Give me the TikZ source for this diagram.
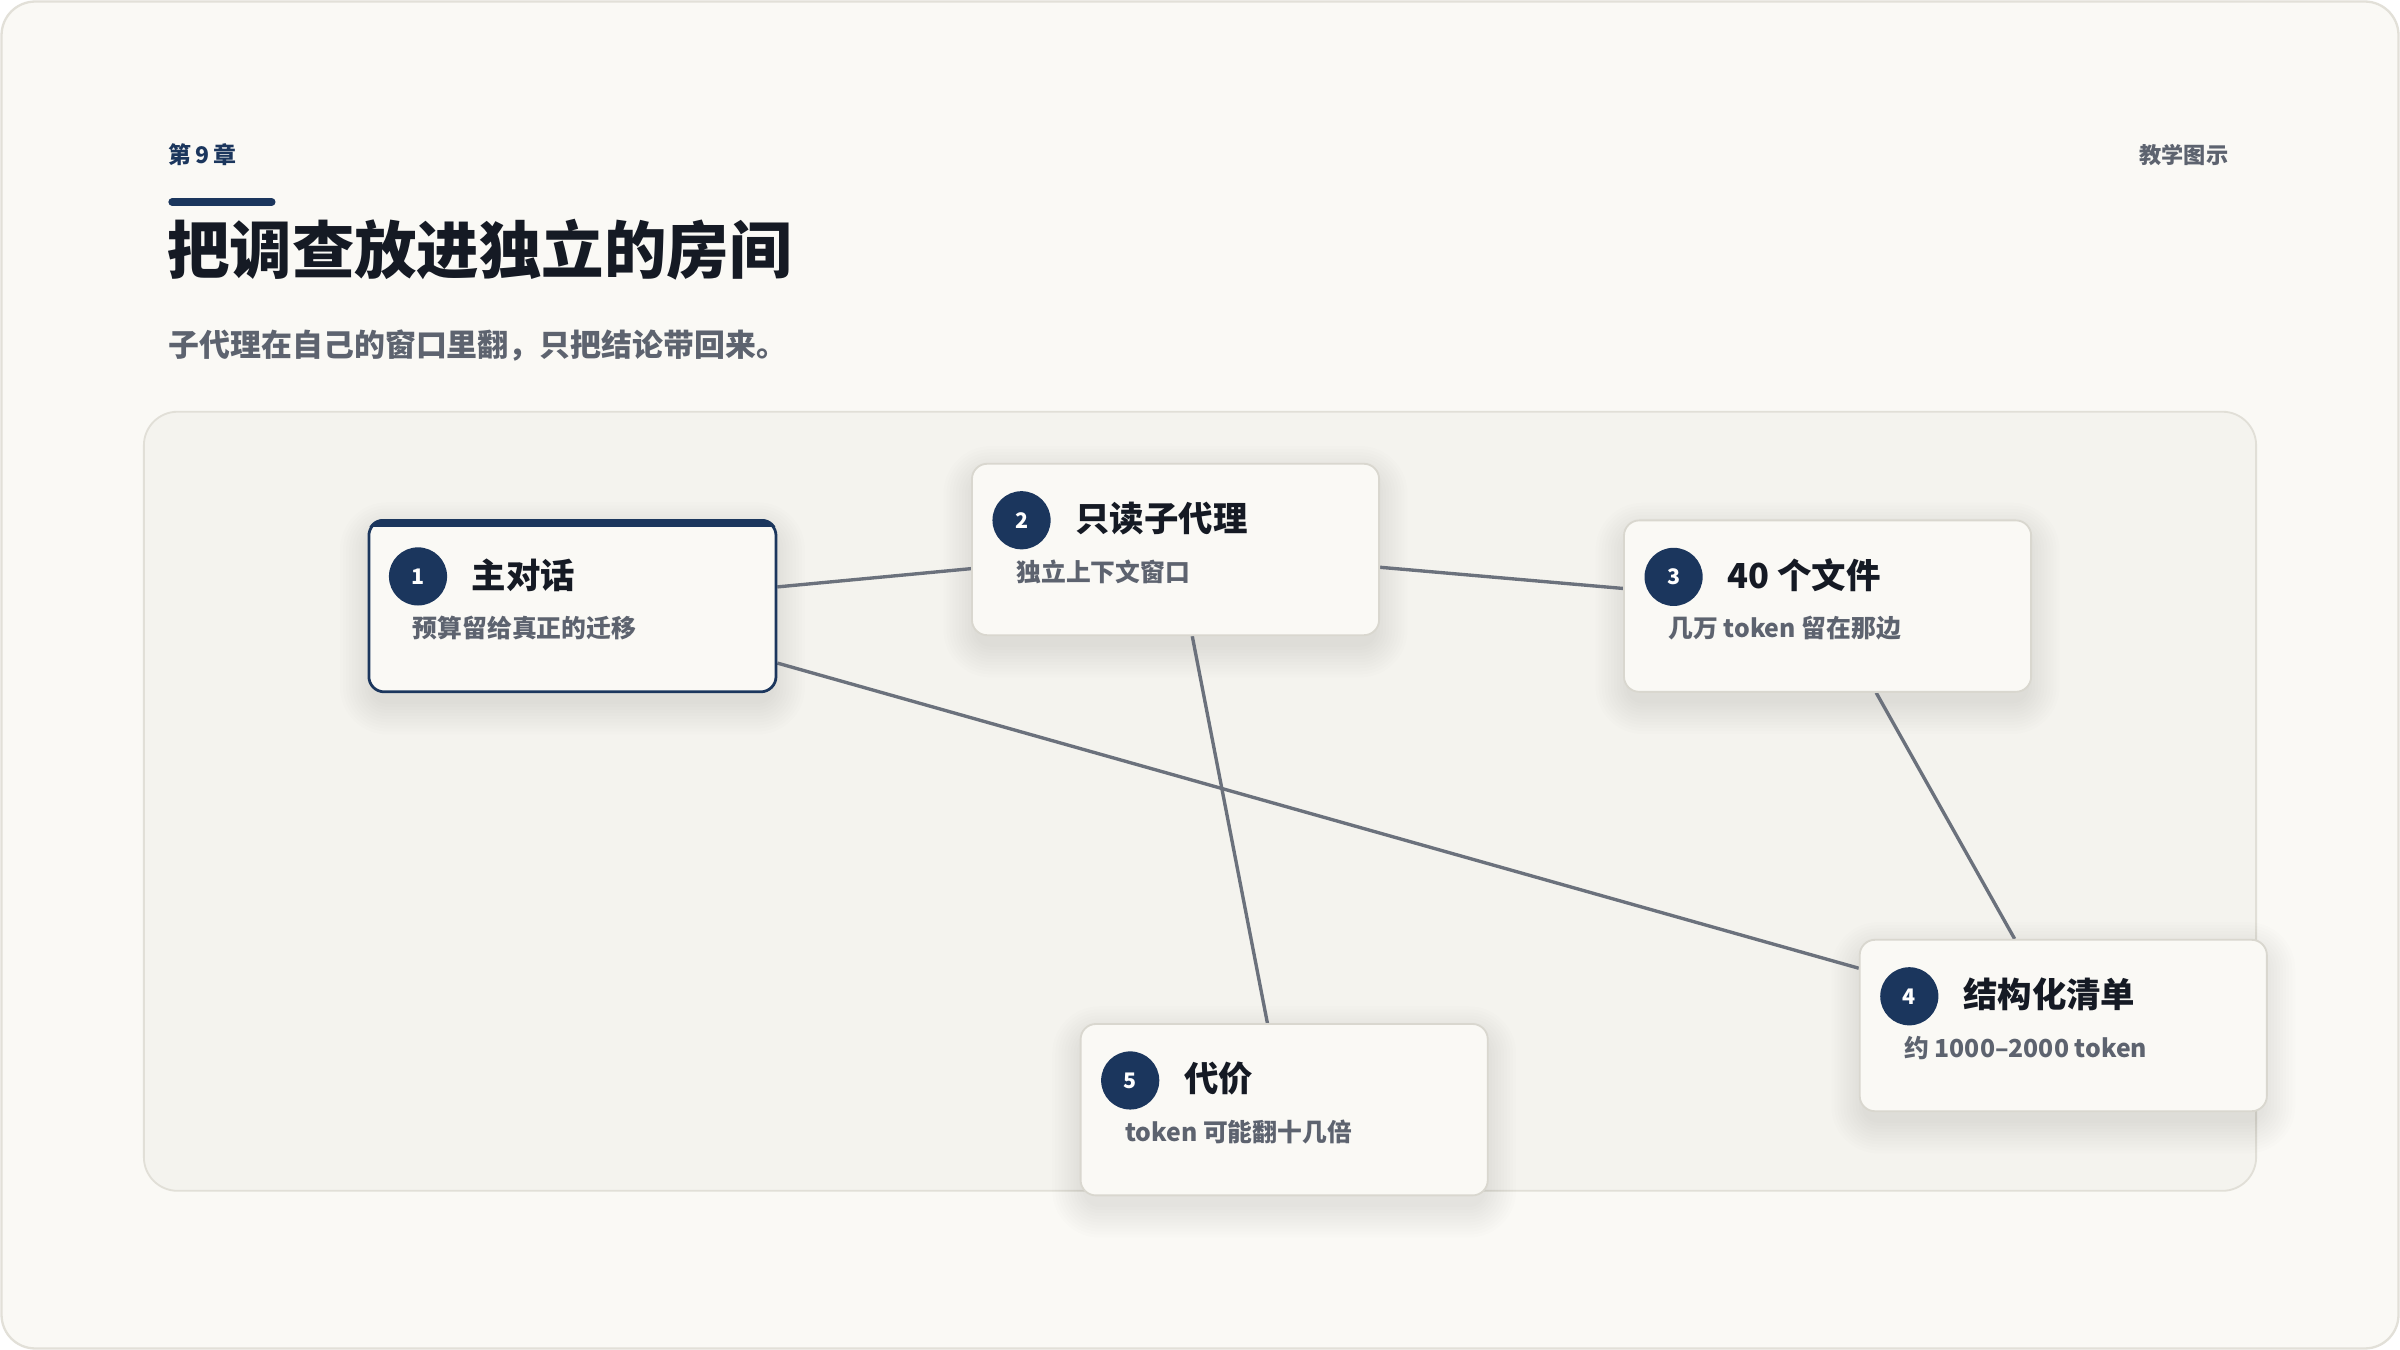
\documentclass[tikz,border=0pt]{standalone}
\usepackage{fontspec}
\setmainfont{Noto Sans CJK SC}
\usetikzlibrary{calc}
\definecolor{pagebg}{HTML}{FAF9F5}
\definecolor{framec}{HTML}{E2E0D8}
\definecolor{panelbg}{HTML}{F4F3EE}
\definecolor{panelline}{HTML}{E1DFD7}
\definecolor{cardbg}{HTML}{FAF9F5}
\definecolor{cardline}{HTML}{D9D7CF}
\definecolor{navy}{HTML}{1B365D}
\definecolor{ink}{HTML}{151A24}
\definecolor{subgray}{HTML}{5D636F}
\definecolor{edgec}{HTML}{6B717C}
\pgfdeclarelayer{bglayer}
\pgfdeclarelayer{edgelayer}
\pgfsetlayers{bglayer,edgelayer,main}
\tikzset{
  card/.style={rectangle, rounded corners=10pt, draw=cardline, line width=1.2pt, fill=cardbg,
    minimum width=266pt, minimum height=112pt, inner sep=0pt},
  maincard/.style={draw=navy, line width=1.8pt, fill=cardbg},
  numc/.style={circle, fill=navy, minimum size=38pt, inner sep=0pt, text=white,
    font=\fontsize{14}{16}\selectfont\bfseries},
  ttl/.style={anchor=west, inner sep=0pt, text=ink, font=\fontsize{22.5}{27}\selectfont\bfseries},
  subt/.style={anchor=west, inner sep=0pt, text=subgray, font=\fontsize{16.2}{20}\selectfont\bfseries},
  edge/.style={draw=edgec, line width=2.2pt},
  shadowstep/.style={fill=black, fill opacity=0.009}
}
\newcommand\mycard[6]{%
  \node[card,#6] (#1) at (#2) {};
  \begin{pgfonlayer}{bglayer}
    \foreach \s in {1,3,...,21}{%
      \fill[shadowstep, rounded corners={10pt+\s pt}]
        ($(#1.north west)+(-\s+3,-\s+10)$) rectangle ($(#1.south east)+(\s-3,\s+6)$);
    }
  \end{pgfonlayer}
  \node[numc] (#1n) at ($(#1.north west)+(33,37.5)$) {#3};
  \node[ttl] (#1t) at ($(#1.north west)+(68,36.5)$) {#4};
  \node[subt] (#1s) at ($(#1.north west)+(29.5,71)$) {#5};
}
\begin{document}
\begin{tikzpicture}[x=1pt,y=-1pt]
\useasboundingbox (0,0) rectangle (1568,882);
\begin{pgfonlayer}{bglayer}
  \fill[white] (0,0) rectangle (1568,882);
  \draw[framec, fill=pagebg, line width=1.5pt, rounded corners=22pt] (1,1) rectangle (1567,881);
  \draw[panelline, fill=panelbg, line width=1.2pt, rounded corners=22pt] (94,269) rectangle (1474,778);
\end{pgfonlayer}
% header
\node[anchor=west, inner sep=0pt, text=navy, font=\fontsize{15}{18}\selectfont\bfseries] (chap) at (110,101) {第\,9\,章};
\node[anchor=east, inner sep=0pt, text=subgray, font=\fontsize{14.5}{18}\selectfont\bfseries] (tag) at (1456,101) {教学图示};
\draw[navy, line width=5pt, line cap=round] (112.5,132) -- (177.5,132);
\node[anchor=west, inner sep=0pt, text=ink, font=\fontsize{40.8}{48}\selectfont\bfseries] (title) at (109,163) {把调查放进独立的房间};
\node[anchor=west, inner sep=0pt, text=subgray, font=\fontsize{20.2}{24}\selectfont\bfseries] (subtitle) at (110,226) {子代理在自己的窗口里翻，只把结论带回来。};
% cards
\mycard{n1}{374,396}{1}{主对话}{预算留给真正的迁移}{maincard}
\begin{scope}
  \clip[rounded corners=10pt] (n1.north west) rectangle (n1.south east);
  \fill[navy] ($(n1.north west)+(-2,-2)$) rectangle ($(n1.north east)+(2,5.5)$);
\end{scope}
\mycard{n2}{768,359}{2}{只读子代理}{独立上下文窗口}{}
\mycard{n3}{1194,396}{3}{40 个文件}{几万 token 留在那边}{}
\mycard{n4}{1348,670}{4}{结构化清单}{约 1000–2000 token}{}
\mycard{n5}{839,725}{5}{代价}{token 可能翻十几倍}{}
\begin{pgfonlayer}{edgelayer}
  \draw[edge] (n1) -- (n2);
  \draw[edge] (n2) -- (n3);
  \draw[edge] (n1) -- (n4);
  \draw[edge] (n2) -- (n5);
  \draw[edge] (n3) -- (n4);
\end{pgfonlayer}
\end{tikzpicture}
\end{document}
